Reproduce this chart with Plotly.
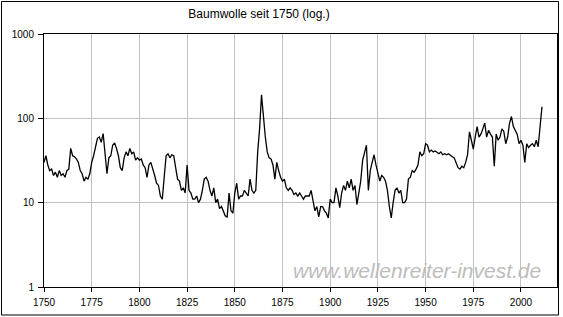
import plotly.graph_objects as go

years = list(range(1750, 2012))
prices = [
    30, 36, 28, 24, 25, 21, 23, 20, 24, 21,          # 1750-1759
    22, 20, 24, 25, 44, 36, 35, 33, 30, 24,          # 1760-1769
    22, 18, 20, 19, 22, 30, 36, 44, 58, 60,          # 1770-1779
    52, 66, 40, 22, 34, 36, 48, 51, 44, 36,          # 1780-1789
    26, 24, 34, 40, 36, 44, 38, 40, 32, 34,          # 1790-1799
    32, 33, 28, 26, 20, 28, 30, 24, 21, 17,          # 1800-1809
    16, 12, 11, 20, 36, 38, 34, 37, 36, 26,          # 1810-1819
    19, 18, 14, 15, 13, 28, 14, 13, 11, 11,          # 1820-1829
    12, 10, 11, 14, 19, 20, 18, 14, 12, 15,          # 1830-1839
    10, 11, 8.5, 9, 8, 7, 6.7, 13, 8, 7.5,           # 1840-1849
    13, 17, 11, 12, 12, 14, 13, 12, 19, 14,          # 1850-1859
    13, 14, 40, 75, 190, 95, 60, 40, 34, 33,         # 1860-1869
    28, 19, 30, 24, 20, 18, 19, 15, 14, 15,          # 1870-1879
    14, 12.5, 13, 12, 13, 12, 11, 12, 12, 12,        # 1880-1889
    14, 10, 8, 9, 6.8, 9, 9, 8, 7.5, 6.6,            # 1890-1899
    11, 10, 10, 15, 12, 8.7, 13, 16, 14, 18,         # 1900-1909
    15, 19, 14, 16, 9.5, 13, 18, 32, 38, 48,         # 1910-1919
    14, 24, 30, 37, 28, 22, 18, 21, 20, 18,          # 1920-1929
    14, 9, 6.6, 10, 14, 15, 13, 14, 10, 10,          # 1930-1939
    11, 19, 20, 24, 23, 25, 28, 40, 36, 38,          # 1940-1949
    50, 48, 40, 42, 40, 41, 39, 38, 40, 37,          # 1950-1959
    38, 37, 38, 36, 35, 34, 30, 26, 25, 27,          # 1960-1969
    26, 30, 37, 69, 55, 43, 60, 80, 60, 65,          # 1970-1979
    75, 88, 60, 72, 65, 60, 27, 65, 55, 60,          # 1980-1989
    75, 70, 50, 60, 88, 105, 80, 72, 65, 50,         # 1990-1999
    55, 48, 30, 50, 45, 48, 50, 46, 55, 46,          # 2000-2009
    83, 137,                                         # 2010-2011
]

title_text = "Baumwolle seit 1750 (log.)"
watermark = "www.wellenreiter-invest.de"
x_ticks = [1750, 1775, 1800, 1825, 1850, 1875, 1900, 1925, 1950, 1975, 2000]
y_ticks = [1, 10, 100, 1000]

FONT = "Liberation Sans, Arial, sans-serif"

fig = go.Figure()
fig.add_trace(go.Scatter(
    x=years, y=prices, mode="lines",
    line=dict(color="black", width=1.3),
    hoverinfo="skip", showlegend=False,
))

W, H = 563, 317
L, R, T, B = 44, 5, 34, 30
pw, ph = W - L - R, H - T - B

fig.update_layout(
    width=W, height=H,
    margin=dict(l=L, r=R, t=T, b=B),
    paper_bgcolor="white", plot_bgcolor="white",
    font=dict(family=FONT, size=10, color="black"),
    title=dict(text=title_text, x=259 / W, xref="container", xanchor="center",
               y=1 - 14 / H, yref="container", yanchor="middle",
               font=dict(family=FONT, size=12, color="black")),
    showlegend=False,
)
fig.update_xaxes(
    range=[1750, 2019.4], tickvals=x_ticks, ticktext=[str(t) for t in x_ticks],
    showgrid=True, gridcolor="#c0c0c0", gridwidth=1,
    showline=True, linecolor="black", linewidth=1, mirror=True,
    ticks="outside", ticklen=4, tickcolor="black", zeroline=False,
    ticklabelstandoff=2,
    tickfont=dict(family=FONT, size=10, color="black"),
)
fig.update_yaxes(
    type="log", range=[0, 3], tickvals=y_ticks, ticktext=[str(t) for t in y_ticks],
    showgrid=True, gridcolor="#c0c0c0", gridwidth=1,
    showline=True, linecolor="black", linewidth=1, mirror=True,
    ticks="outside", ticklen=5, tickcolor="black", zeroline=False,
    ticklabelstandoff=2,
    tickfont=dict(family=FONT, size=10, color="black"),
)

# right edge of plot area slightly heavier
fig.add_shape(type="line", xref="paper", yref="paper", x0=1, x1=1, y0=0, y1=1,
              line=dict(color="black", width=2))
# outer border of the chart
fig.add_shape(type="rect", xref="paper", yref="paper",
              x0=(1.5 - L) / pw, x1=(558.5 - L) / pw,
              y0=(H - B - 315) / ph, y1=(H - B - 1.5) / ph,
              line=dict(color="black", width=1), fillcolor="rgba(0,0,0,0)")

fig.add_annotation(
    text=watermark, xref="paper", yref="paper",
    x=(416.5 - L) / pw, y=(H - B - 270) / ph, xanchor="center", yanchor="middle",
    showarrow=False,
    font=dict(family=FONT, size=21, color="#bcbcbc", style="italic"),
)

fig.write_html("out.html")
